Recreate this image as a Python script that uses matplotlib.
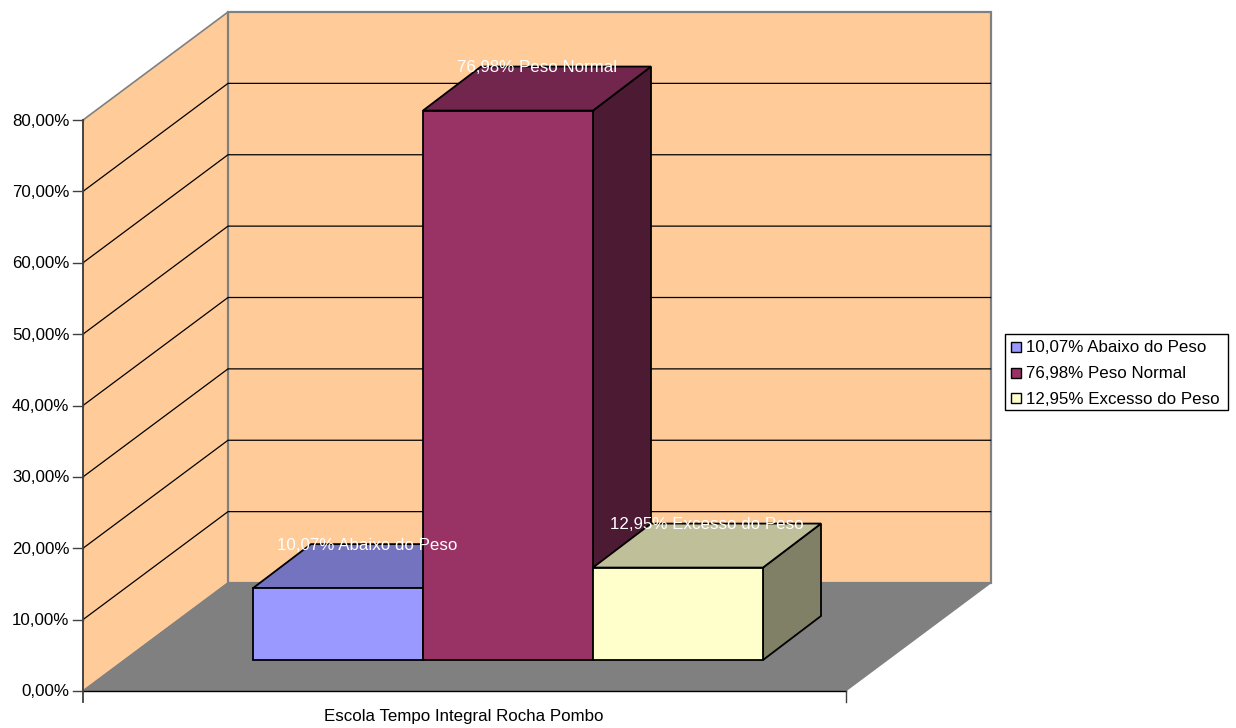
import matplotlib
matplotlib.use("Agg")
import matplotlib.pyplot as plt
from matplotlib.patches import Polygon, Rectangle

plt.rcParams['font.family'] = ['Liberation Sans', 'DejaVu Sans']

# Data
category = "Escola Tempo Integral Rocha Pombo"
series_names = ["10,07% Abaixo do Peso", "76,98% Peso Normal", "12,95% Excesso do Peso"]
series_values = [10.07, 76.98, 12.95]
tick_values = [0, 10, 20, 30, 40, 50, 60, 70, 80]
tick_labels = ["0,00%", "10,00%", "20,00%", "30,00%", "40,00%", "50,00%", "60,00%", "70,00%", "80,00%"]

# Face colours of each bar: front, top, side
front_colors = ["#9999FF", "#993366", "#FFFFCC"]
top_colors = ["#7373BF", "#73264D", "#BFBF99"]
side_colors = ["#4D4D80", "#4D1A33", "#808066"]

# Oblique projection of the chart box on the canvas
X0, X1 = 83.0, 845.5
Y0, YMAX = 691.0, 120.0
VMAX = 80.0
DX, DY = 145.0, -108.0
BAR_X0, BAR_W = 253.0, 170.0
BAR_Y0 = 660.0
BAR_DX, BAR_DY = 58.0, -44.0
SCALE = (Y0 - YMAX) / VMAX
FONT = 12.2

fig = plt.figure(figsize=(12.36, 7.28), dpi=100, facecolor="white")
ax = fig.add_axes([0, 0, 1, 1])
ax.set_xlim(0, 1236)
ax.set_ylim(728, 0)
ax.axis("off")


def vy(v):
    return Y0 - v * SCALE


def poly(pts, fc, ec="none", lw=1.0, z=1):
    ax.add_patch(Polygon(pts, closed=True, facecolor=fc, edgecolor=ec, linewidth=lw,
                         zorder=z, joinstyle="miter"))


# Walls and floor
WALL = "#FFCC99"
EDGE = "#808080"
poly([(X0, vy(0)), (X0 + DX, vy(0) + DY), (X0 + DX, vy(VMAX) + DY), (X0, vy(VMAX))], WALL, EDGE, 1.2)
poly([(X0 + DX, vy(0) + DY), (X1 + DX, vy(0) + DY), (X1 + DX, vy(VMAX) + DY), (X0 + DX, vy(VMAX) + DY)],
     WALL, EDGE, 1.6)
poly([(X0, vy(0)), (X1, vy(0)), (X1 + DX, vy(0) + DY), (X0 + DX, vy(0) + DY)], "#808080", EDGE, 1.0, z=2)

# Gridlines across both walls
for v in tick_values[1:-1]:
    y = vy(v)
    ax.plot([X0, X0 + DX, X1 + DX], [y, y + DY, y + DY], color="black", lw=0.9, zorder=3,
            solid_joinstyle="miter")

# Axes and tick marks
ax.plot([X0, X1], [Y0, Y0], color="black", lw=1.0, zorder=4)
ax.plot([X0, X0], [vy(VMAX), Y0 + 11], color="#404040", lw=1.3, zorder=4)
ax.plot([X1, X1], [Y0, Y0 + 11], color="#404040", lw=1.0, zorder=4)
for v, lab in zip(tick_values, tick_labels):
    y = vy(v)
    ax.text(69.5, y + 1, lab, ha="right", va="center", fontsize=FONT, color="black", zorder=5)
    ax.plot([X0 - 10, X0], [y, y], color="#404040", lw=1.0, zorder=4)
ax.text(463.5, 716.5, category, ha="center", va="center", fontsize=FONT, color="black", zorder=5)

# Bars, left to right, each hiding the side of the one before
for i, v in enumerate(series_values):
    l = BAR_X0 + i * BAR_W
    r = l + BAR_W
    b = BAR_Y0
    t = b - v * SCALE
    z = 6 + i
    poly([(r, b), (r + BAR_DX, b + BAR_DY), (r + BAR_DX, t + BAR_DY), (r, t)], side_colors[i], "black", 1.3, z)
    poly([(l, t), (r, t), (r + BAR_DX, t + BAR_DY), (l + BAR_DX, t + BAR_DY)], top_colors[i], "black", 1.3, z)
    poly([(l, b), (r, b), (r, t), (l, t)], front_colors[i], "black", 1.3, z)

# Value labels sit at the rear top edge of each bar
for i, (v, name) in enumerate(zip(series_values, series_names)):
    cx = BAR_X0 + i * BAR_W + BAR_W / 2 + BAR_DX / 2
    y = BAR_Y0 - v * SCALE + BAR_DY
    ax.text(cx, y + 1, name, ha="center", va="center", fontsize=FONT, color="white", zorder=20)

# Legend box
ax.add_patch(Rectangle((1004.5, 333.5), 223, 76, facecolor="white", edgecolor="black", lw=1.0, zorder=10))
for i, (name, c) in enumerate(zip(series_names, front_colors)):
    y = 347 + i * 25.5
    ax.add_patch(Rectangle((1011, y - 5), 10, 10, facecolor=c, edgecolor="black", lw=1.0, zorder=11))
    ax.text(1026, y + 1, name, ha="left", va="center", fontsize=FONT, color="black", zorder=11)

fig.savefig("out.png", dpi=100, facecolor="white")
